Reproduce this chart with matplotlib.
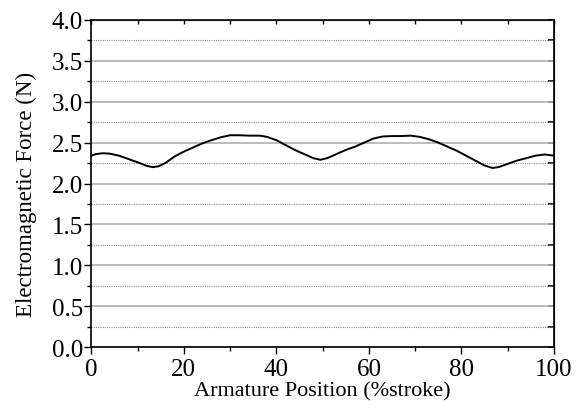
import matplotlib
matplotlib.use('Agg')
import matplotlib.pyplot as plt
from matplotlib.ticker import MultipleLocator

plt.rcParams['font.family'] = ['Liberation Serif', 'DejaVu Serif']

position = [0, 1, 2.5, 4, 6, 8, 10, 12, 13.3, 14.5, 16, 18, 20, 22, 24, 26,
            28, 30, 32, 34, 36.4, 38, 40, 42, 44, 46, 48, 49.5, 51, 53, 55,
            57, 59, 61, 63, 65, 67, 69, 71, 73, 75, 77, 79, 81, 83, 85, 86.7,
            88, 90, 92, 94, 96, 98, 100]
force = [2.34, 2.36, 2.37, 2.365, 2.34, 2.30, 2.26, 2.215, 2.20, 2.21, 2.25,
         2.33, 2.39, 2.44, 2.49, 2.53, 2.565, 2.59, 2.59, 2.585, 2.585, 2.57,
         2.53, 2.47, 2.41, 2.36, 2.31, 2.29, 2.31, 2.36, 2.41, 2.45, 2.50,
         2.55, 2.575, 2.58, 2.58, 2.585, 2.57, 2.54, 2.50, 2.45, 2.40, 2.34,
         2.28, 2.22, 2.19, 2.20, 2.24, 2.28, 2.31, 2.34, 2.355, 2.34]


def main():
    fig, ax = plt.subplots(figsize=(5.85, 4.10), dpi=100)
    fig.subplots_adjust(left=0.156, right=0.947, top=0.949, bottom=0.151)

    ax.plot(position, force, color='black', lw=1.4)

    ax.set_xlim(0, 100)
    ax.set_ylim(0, 4.0)
    ax.xaxis.set_major_locator(MultipleLocator(20))
    ax.xaxis.set_minor_locator(MultipleLocator(10))
    ax.yaxis.set_major_locator(MultipleLocator(0.5))
    ax.yaxis.set_minor_locator(MultipleLocator(0.25))
    ax.yaxis.set_major_formatter(plt.FormatStrFormatter('%.1f'))

    ax.grid(axis='y', which='major', color='#b0b0b0', lw=1.2, ls='-')
    ax.grid(axis='y', which='minor', color='#909090', lw=0.8, ls=(0, (1, 1)))
    ax.set_axisbelow(True)

    ax.tick_params(which='both', direction='out', top=False, right=False,
                   labelsize=18)
    ax.tick_params(axis='x', pad=3)
    ax.tick_params(axis='y', pad=1)
    ax.tick_params(which='major', length=5, width=1)
    ax.tick_params(which='minor', length=3, width=1)

    # inward ticks on the right and top
    ax2 = ax.secondary_yaxis('right')
    ax2.yaxis.set_major_locator(MultipleLocator(0.5))
    ax2.yaxis.set_minor_locator(MultipleLocator(0.25))
    ax2.tick_params(which='both', direction='in', labelright=False, length=4, width=1.2)
    ax3 = ax.secondary_xaxis('top')
    ax3.xaxis.set_major_locator(MultipleLocator(20))
    ax3.xaxis.set_minor_locator(MultipleLocator(10))
    ax3.tick_params(which='both', direction='in', labeltop=False, length=3, width=1)

    for s in ax.spines.values():
        s.set_linewidth(1.2)

    ax.set_xlabel('Armature Position (%stroke)', fontsize=16, labelpad=1)
    ax.set_ylabel('Electromagnetic Force (N)', fontsize=16.5)
    ax.yaxis.set_label_coords(-0.117, 0.47)

    fig.savefig('out.png', dpi=100)


if __name__ == '__main__':
    main()
